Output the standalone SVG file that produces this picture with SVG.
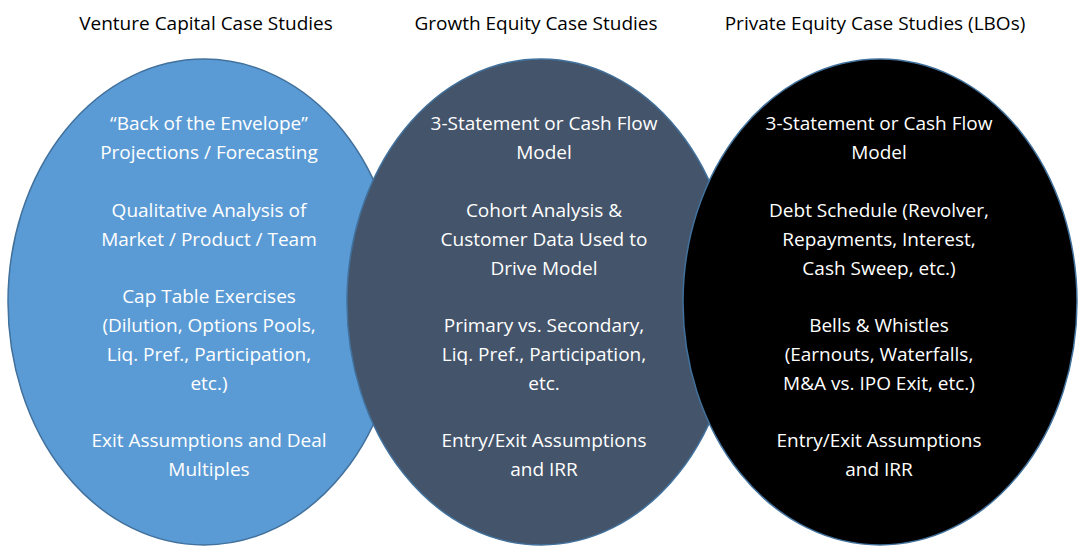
<svg xmlns="http://www.w3.org/2000/svg" width="1091" height="554" viewBox="0 0 1091 554">
<style>
text{font-family:"Open Sans","Liberation Sans",sans-serif;font-size:19px;text-anchor:middle}
.t{fill:#000}
.w{fill:#fff}
ellipse{stroke:#41719c;stroke-width:1.5}
</style>
<rect width="1091" height="554" fill="#fff"/>
<g id="titles">
<text class="t" x="206" y="30">Venture Capital Case Studies</text>
<text class="t" x="536" y="30">Growth Equity Case Studies</text>
<text class="t" x="875" y="30">Private Equity Case Studies (LBOs)</text>
</g>
<g id="vc">
<ellipse cx="204" cy="302" rx="196" ry="243" fill="#5b9bd5"/>
</g>
<g id="ge">
<ellipse cx="541" cy="302" rx="194" ry="243" fill="#44546a"/>
</g>
<g id="pe">
<ellipse cx="880" cy="302" rx="197" ry="243" fill="#000"/>
</g>
<g id="labels" class="w">
<text class="w" x="209" y="130">“Back of the Envelope”</text>
<text class="w" x="209" y="159">Projections / Forecasting</text>
<text class="w" x="209" y="217">Qualitative Analysis of</text>
<text class="w" x="209" y="246">Market / Product / Team</text>
<text class="w" x="209" y="303">Cap Table Exercises</text>
<text class="w" x="209" y="332">(Dilution, Options Pools,</text>
<text class="w" x="209" y="361">Liq. Pref., Participation,</text>
<text class="w" x="209" y="390">etc.)</text>
<text class="w" x="209" y="447">Exit Assumptions and Deal</text>
<text class="w" x="209" y="476">Multiples</text>
<text class="w" x="544" y="130">3-Statement or Cash Flow</text>
<text class="w" x="544" y="159">Model</text>
<text class="w" x="544" y="217">Cohort Analysis &amp;</text>
<text class="w" x="544" y="246">Customer Data Used to</text>
<text class="w" x="544" y="275">Drive Model</text>
<text class="w" x="544" y="332">Primary vs. Secondary,</text>
<text class="w" x="544" y="361">Liq. Pref., Participation,</text>
<text class="w" x="544" y="390">etc.</text>
<text class="w" x="544" y="447">Entry/Exit Assumptions</text>
<text class="w" x="544" y="476">and IRR</text>
<text class="w" x="879" y="130">3-Statement or Cash Flow</text>
<text class="w" x="879" y="159">Model</text>
<text class="w" x="879" y="217">Debt Schedule (Revolver,</text>
<text class="w" x="879" y="246">Repayments, Interest,</text>
<text class="w" x="879" y="275">Cash Sweep, etc.)</text>
<text class="w" x="879" y="332">Bells &amp; Whistles</text>
<text class="w" x="879" y="361">(Earnouts, Waterfalls,</text>
<text class="w" x="879" y="390">M&amp;A vs. IPO Exit, etc.)</text>
<text class="w" x="879" y="447">Entry/Exit Assumptions</text>
<text class="w" x="879" y="476">and IRR</text>
</g>
<g id="connectors"/>
</svg>
